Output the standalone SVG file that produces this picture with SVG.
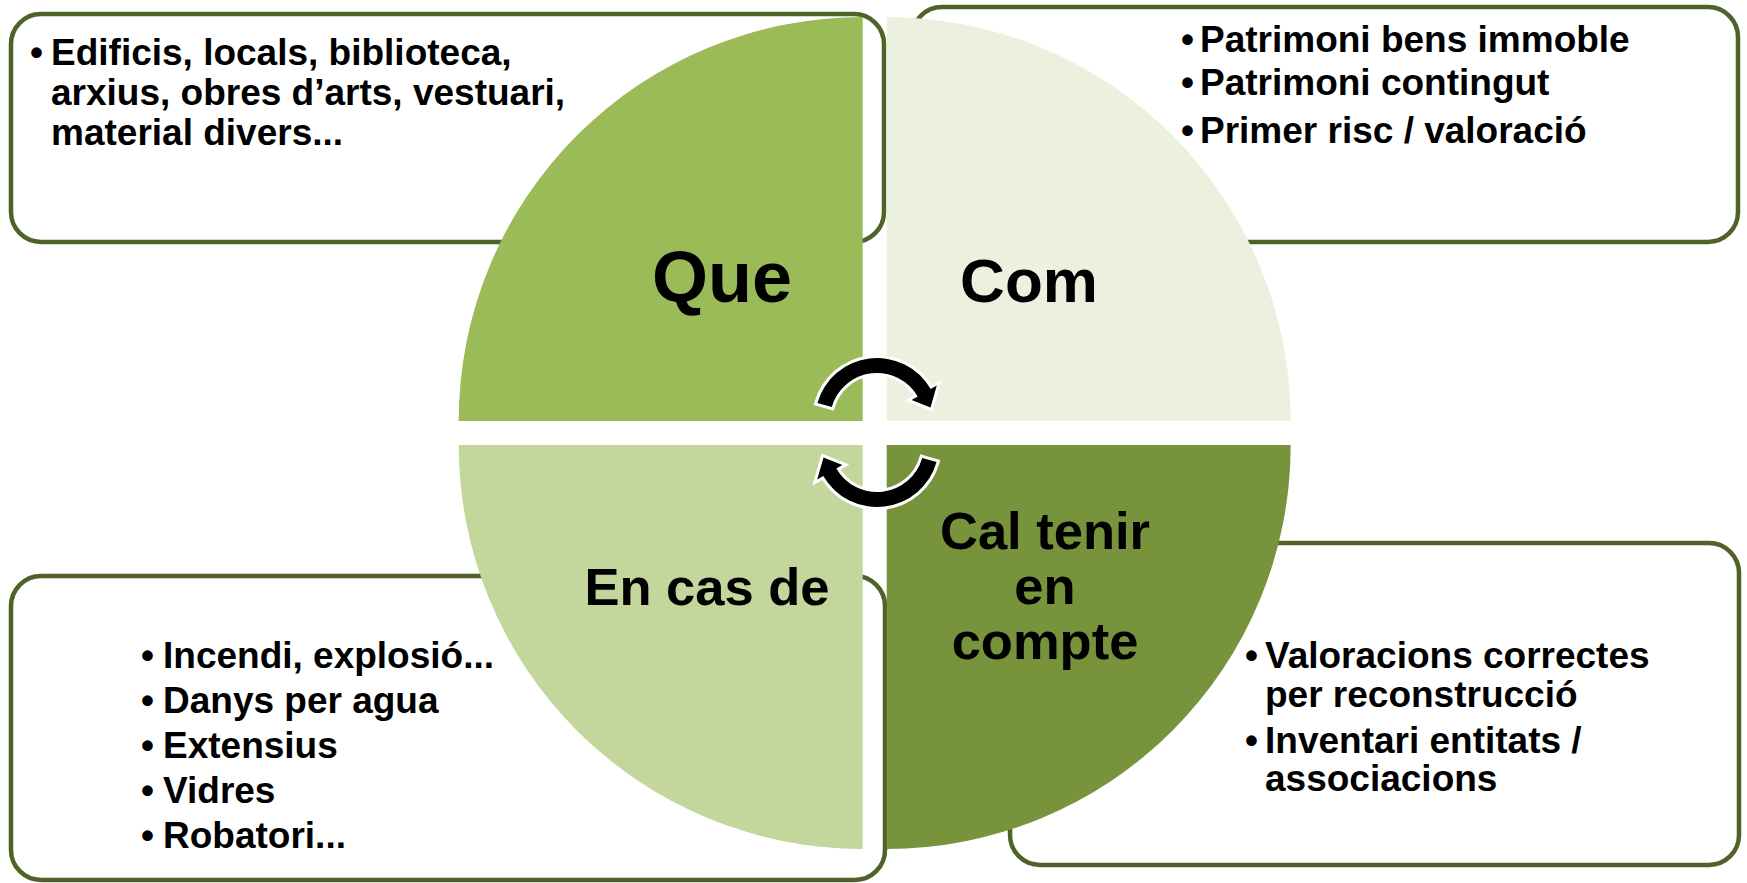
<svg xmlns="http://www.w3.org/2000/svg" xmlns:xlink="http://www.w3.org/1999/xlink" width="1747" height="883" viewBox="0 0 1747 883">
<style>
.box{fill:#ffffff;stroke:#4F6228;stroke-width:4.5}
.t{font-family:"Liberation Sans",Arial,sans-serif;font-weight:bold;font-size:37px;fill:#000}
.big{font-family:"Liberation Sans",Arial,sans-serif;font-weight:bold;fill:#000;text-anchor:middle}
.arr{fill:#000;stroke:#fff;stroke-width:6;paint-order:stroke;stroke-linejoin:miter}
</style>
<defs>
<path id="cyc" d="M 817.4 402.9 A 62 62 0 0 1 930.7 389 L 936.8 385.5 L 930.5 407.5 L 911.6 400 L 917.7 396.5 A 47 47 0 0 0 831.8 407 Z"/>
</defs>
<rect width="1747" height="883" fill="#fff"/>
<g id="box-que">
<rect class="box" x="11" y="14" width="873" height="228" rx="30"/>
<text class="t" x="30" y="65">•</text>
<text class="t" x="51" y="65">Edificis, locals, biblioteca,</text>
<text class="t" x="51" y="105">arxius, obres d’arts, vestuari,</text>
<text class="t" x="51" y="145">material divers...</text>
</g>
<g id="box-com">
<rect class="box" x="912" y="7" width="826" height="235" rx="30"/>
<text class="t" x="1181" y="52">•</text>
<text class="t" x="1200" y="52">Patrimoni bens immoble</text>
<text class="t" x="1181" y="95">•</text>
<text class="t" x="1200" y="95">Patrimoni contingut</text>
<text class="t" x="1181" y="143">•</text>
<text class="t" x="1200" y="143">Primer risc / valoració</text>
</g>
<g id="box-encas">
<rect class="box" x="11" y="576" width="874" height="304" rx="30"/>
<text class="t" x="141" y="668">•</text>
<text class="t" x="163" y="668">Incendi, explosió...</text>
<text class="t" x="141" y="713">•</text>
<text class="t" x="163" y="713">Danys per agua</text>
<text class="t" x="141" y="758">•</text>
<text class="t" x="163" y="758">Extensius</text>
<text class="t" x="141" y="803">•</text>
<text class="t" x="163" y="803">Vidres</text>
<text class="t" x="141" y="848">•</text>
<text class="t" x="163" y="848">Robatori...</text>
</g>
<g id="box-cal">
<rect class="box" x="1010" y="543" width="729" height="322" rx="30"/>
<text class="t" x="1245" y="668">•</text>
<text class="t" x="1265" y="668">Valoracions correctes</text>
<text class="t" x="1265" y="707">per reconstrucció</text>
<text class="t" x="1245" y="753">•</text>
<text class="t" x="1265" y="753">Inventari entitats /</text>
<text class="t" x="1265" y="791">associacions</text>
</g>
<g id="que">
<path d="M 862.7 421 L 458.7 421 A 404 404 0 0 1 862.7 17 Z" fill="#9BBB59"/>
<text class="big" x="722" y="302" font-size="72">Que</text>
</g>
<g id="com">
<path d="M 886.7 421 L 886.7 17 A 404 404 0 0 1 1290.7 421 Z" fill="#EBF1DE"/>
<text class="big" x="1029" y="302" font-size="62">Com</text>
</g>
<g id="cal">
<path d="M 886.7 445 L 1290.7 445 A 404 404 0 0 1 886.7 849 Z" fill="#77933C"/>
<text class="big" x="1045" y="549" font-size="52.5">Cal tenir</text>
<text class="big" x="1045" y="604" font-size="52.5">en</text>
<text class="big" x="1045" y="659" font-size="52.5">compte</text>
</g>
<g id="encas">
<path d="M 862.7 445 L 862.7 849 A 404 404 0 0 1 458.7 445 Z" fill="#C3D69B"/>
<text class="big" x="707" y="605" font-size="52.5">En cas de</text>
</g>
<g id="connectors">
<use xlink:href="#cyc" class="arr"/>
<use xlink:href="#cyc" class="arr" transform="rotate(180 877 432.5)"/>
</g>
</svg>
